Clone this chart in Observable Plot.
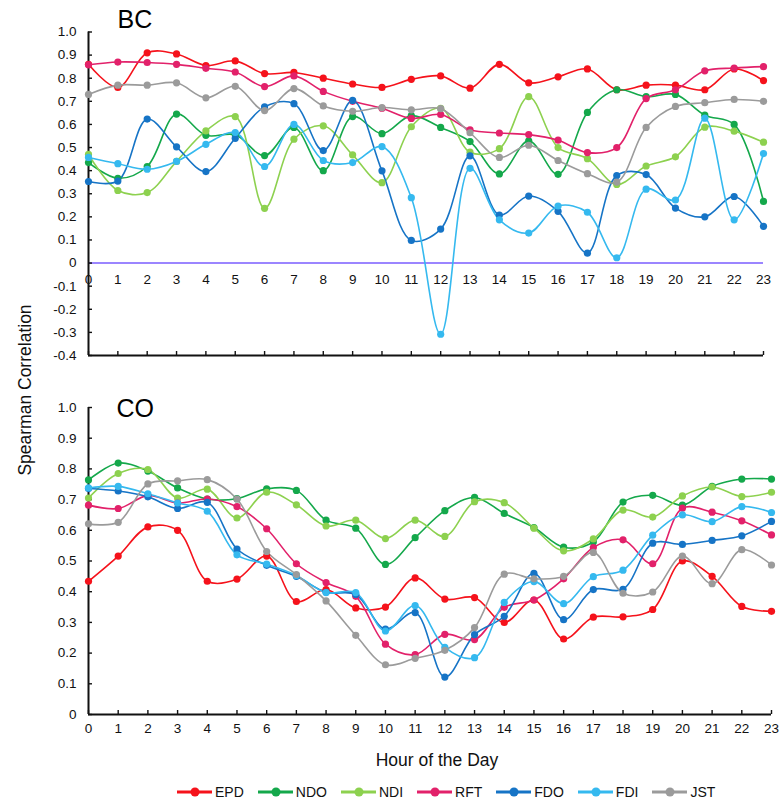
<!DOCTYPE html>
<html><head><meta charset="utf-8">
<script src="https://cdn.jsdelivr.net/npm/d3@7"></script>
<script src="https://cdn.jsdelivr.net/npm/@observablehq/plot@0.6"></script>
<style>
body{margin:0;background:#fff;font-family:"Liberation Sans",Arial,sans-serif;}
#root{position:relative;width:783px;height:808px;overflow:hidden;background:#fff;}
.abs{position:absolute;}
</style></head><body><div id="root"></div>
<script>
const hours = [0,1,2,3,4,5,6,7,8,9,10,11,12,13,14,15,16,17,18,19,20,21,22,23];
const seriesNames = ["EPD","NDO","NDI","RFT","FDO","FDI","JST"];
const seriesColors = ["#f5121b","#14a84b","#8dd14f","#e2216a","#1674c6","#35b9ef","#9b9b9b"];
const yTicksBC = [-0.4,-0.3,-0.2,-0.1,0,0.1,0.2,0.3,0.4,0.5,0.6,0.7,0.8,0.9,1.0];
const yTicksCO = [0,0.1,0.2,0.3,0.4,0.5,0.6,0.7,0.8,0.9,1.0];

// BC panel
const bcEPD = [0.86,0.76,0.91,0.905,0.855,0.875,0.82,0.825,0.80,0.775,0.76,0.795,0.81,0.757,0.86,0.78,0.806,0.84,0.75,0.77,0.77,0.75,0.84,0.79];
const bcNDO = [0.435,0.367,0.418,0.645,0.553,0.555,0.465,0.587,0.40,0.634,0.56,0.638,0.587,0.526,0.386,0.529,0.384,0.652,0.75,0.72,0.73,0.64,0.60,0.267];
const bcNDI = [0.47,0.314,0.305,0.44,0.572,0.634,0.237,0.536,0.594,0.468,0.348,0.59,0.67,0.48,0.495,0.72,0.50,0.452,0.34,0.42,0.46,0.588,0.571,0.523];
const bcRFT = [0.858,0.87,0.868,0.86,0.843,0.827,0.764,0.81,0.743,0.70,0.67,0.626,0.643,0.577,0.563,0.556,0.532,0.478,0.50,0.712,0.75,0.832,0.844,0.85];
const bcFDO = [0.353,0.355,0.623,0.503,0.396,0.54,0.676,0.69,0.487,0.704,0.399,0.098,0.147,0.464,0.208,0.29,0.224,0.043,0.379,0.383,0.238,0.20,0.288,0.159];
const bcFDI = [0.457,0.43,0.406,0.44,0.514,0.565,0.418,0.60,0.444,0.435,0.504,0.283,-0.308,0.41,0.187,0.13,0.247,0.22,0.023,0.32,0.273,0.627,0.187,0.474];
const bcJST = [0.73,0.77,0.77,0.78,0.715,0.765,0.66,0.755,0.68,0.657,0.673,0.663,0.668,0.564,0.457,0.51,0.444,0.387,0.35,0.587,0.678,0.694,0.708,0.70];

// CO panel
const coEPD = [0.434,0.516,0.611,0.60,0.434,0.441,0.516,0.368,0.407,0.347,0.35,0.445,0.376,0.381,0.30,0.373,0.246,0.317,0.318,0.342,0.50,0.45,0.352,0.336];
const coNDO = [0.764,0.819,0.793,0.738,0.702,0.703,0.735,0.73,0.633,0.607,0.489,0.576,0.664,0.707,0.655,0.609,0.545,0.562,0.692,0.714,0.682,0.743,0.767,0.767];
const coNDI = [0.705,0.785,0.798,0.705,0.734,0.64,0.724,0.683,0.614,0.633,0.573,0.633,0.58,0.693,0.69,0.607,0.533,0.572,0.666,0.643,0.712,0.741,0.71,0.724];
const coRFT = [0.682,0.671,0.713,0.689,0.702,0.677,0.605,0.491,0.43,0.385,0.229,0.195,0.261,0.244,0.349,0.373,0.442,0.544,0.569,0.491,0.672,0.659,0.631,0.585];
const coFDO = [0.736,0.728,0.709,0.671,0.691,0.539,0.486,0.45,0.398,0.391,0.278,0.332,0.122,0.26,0.32,0.46,0.309,0.407,0.408,0.558,0.554,0.567,0.582,0.629];
const coFDI = [0.738,0.743,0.719,0.689,0.662,0.52,0.49,0.453,0.397,0.397,0.272,0.355,0.219,0.185,0.365,0.433,0.361,0.449,0.47,0.584,0.65,0.628,0.677,0.658];
const coJST = [0.621,0.626,0.751,0.761,0.765,0.702,0.531,0.456,0.37,0.258,0.162,0.183,0.209,0.283,0.457,0.442,0.45,0.528,0.395,0.399,0.516,0.426,0.537,0.487];

function toTable(arrs) {
  const rows = [];
  seriesNames.forEach((s, i) => arrs[i].forEach((v, h) => rows.push({series: s, hour: hours[h], value: v})));
  return rows;
}
const bcData = toTable([bcEPD,bcNDO,bcNDI,bcRFT,bcFDO,bcFDI,bcJST]);
const coData = toTable([coEPD,coNDO,coNDI,coRFT,coFDO,coFDI,coJST]);

const fmt = d => d === 0 ? "0" : d.toFixed(1);
const FONT = '"Liberation Sans", Arial, sans-serif';
const root = document.getElementById("root");

function panel({data, yDomain, yTicks, width, height, mt, mb, ml, mr, title, titleDx, titleDy, zeroLine}) {
  const innerW = width - ml - mr, innerH = height - mt - mb;
  const marks = [];
  if (zeroLine) marks.push(Plot.ruleY([0], {stroke: "#7a5cff", strokeWidth: 1.6}));
  marks.push(
    Plot.ruleX([hours[0]], {stroke: "#111", strokeWidth: 2}),
    Plot.ruleY([yDomain[0]], {stroke: "#111", strokeWidth: 2}),
    Plot.tickY(yTicks, {y: d => d, insetRight: innerW - 4, stroke: "#111", strokeWidth: 1.4}),
    Plot.tickX(hours, {x: d => d, insetTop: innerH - 4, stroke: "#111", strokeWidth: 1.4}),
    Plot.axisY({ticks: yTicks, tickSize: 0, tickPadding: 12, tickFormat: fmt, label: null, fontSize: 13.5, fill: "#111"})
  );
  if (zeroLine) {
    marks.push(Plot.text(hours, {x: d => d, y: 0, text: d => String(d), dy: 17, fontSize: 13.5, fill: "#111"}));
  } else {
    marks.push(Plot.axisX({ticks: hours, tickSize: 0, tickPadding: 9, tickFormat: d => String(d), label: null, fontSize: 13.5, fill: "#111"}));
  }
  marks.push(
    Plot.line(data, {x: "hour", y: "value", z: "series", stroke: "series", curve: "catmull-rom", strokeWidth: 1.6}),
    Plot.dot(data, {x: "hour", y: "value", fill: "series", r: 3.6}),
    Plot.text([title], {frameAnchor: "top-left", text: d => d, dx: titleDx, dy: titleDy, lineAnchor: "bottom", textAnchor: "start", fontSize: 25, fill: "#000"})
  );
  return Plot.plot({
    width, height, marginTop: mt, marginBottom: mb, marginLeft: ml, marginRight: mr,
    style: {fontFamily: FONT, background: "transparent", overflow: "visible"},
    x: {domain: [hours[0], hours[hours.length - 1]], axis: null},
    y: {domain: yDomain, axis: null},
    color: {domain: seriesNames, range: seriesColors},
    marks
  });
}

const panelBC = panel({data: bcData, yDomain: [-0.4, 1.0], yTicks: yTicksBC, width: 783, height: 370,
  mt: 31.5, mb: 15, ml: 88, mr: 20, title: "BC", titleDx: 29, titleDy: -4.5, zeroLine: true});
panelBC.classList.add("abs"); panelBC.style.left = "0px"; panelBC.style.top = "0px";
root.appendChild(panelBC);

const panelCO = panel({data: coData, yDomain: [0, 1.0], yTicks: yTicksCO, width: 783, height: 380,
  mt: 27, mb: 46, ml: 88, mr: 12, title: "CO", titleDx: 28, titleDy: 9, zeroLine: false});
panelCO.classList.add("abs"); panelCO.style.left = "0px"; panelCO.style.top = "380px";
root.appendChild(panelCO);

// y label
const yl = document.createElement("div");
yl.className = "abs";
yl.textContent = "Spearman Correlation";
Object.assign(yl.style, {left: "25px", top: "390px", transform: "translate(-50%,-50%) rotate(-90deg)", fontSize: "17.5px", whiteSpace: "nowrap", color: "#111"});
root.appendChild(yl);

// x label
const xl = document.createElement("div");
xl.className = "abs";
xl.textContent = "Hour of the Day";
Object.assign(xl.style, {left: "437px", top: "760px", transform: "translate(-50%,-50%)", fontSize: "17.5px", whiteSpace: "nowrap", color: "#111"});
root.appendChild(xl);

// legend
const lg = document.createElement("div");
lg.className = "abs";
Object.assign(lg.style, {left: "177px", top: "792px", transform: "translateY(-50%)", display: "flex", alignItems: "center", gap: "14px", fontSize: "14px", color: "#111"});
seriesNames.forEach((s, i) => {
  const item = document.createElement("div");
  Object.assign(item.style, {display: "flex", alignItems: "center", gap: "3px"});
  item.innerHTML = `<svg width="35" height="12"><line x1="0" y1="6" x2="35" y2="6" stroke="${seriesColors[i]}" stroke-width="3"/><circle cx="18" cy="6" r="4.5" fill="${seriesColors[i]}"/></svg><span>${s}</span>`;
  lg.appendChild(item);
});
root.appendChild(lg);
</script></body></html>
